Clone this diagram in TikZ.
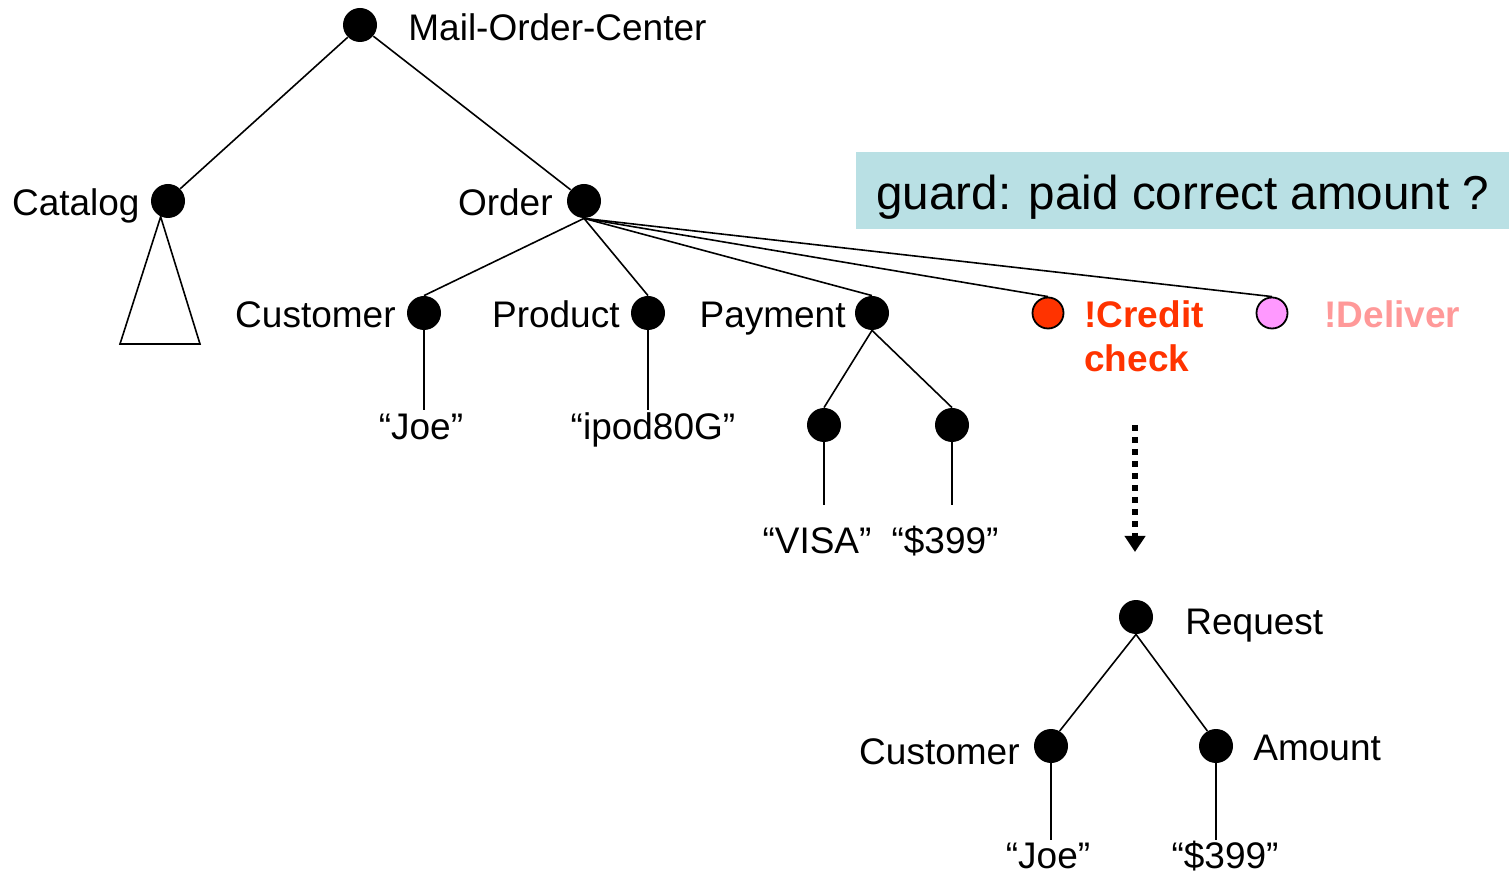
\documentclass[tikz,border=0pt]{standalone}
\usepackage{fontspec}
\setmainfont{Liberation Sans}
\usetikzlibrary{arrows.meta}
\definecolor{guardbg}{HTML}{B9E0E4}
\definecolor{credred}{HTML}{FF3300}
\definecolor{delpink}{HTML}{FF99FF}
\definecolor{deltext}{HTML}{FF9999}
\tikzset{
  dot/.style={circle,fill=black,inner sep=0pt,minimum size=17pt},
  odot/.style={circle,draw=black,line width=0.9pt,inner sep=0pt,minimum size=15.5pt},
  lbl/.style={inner sep=0pt,font=\fontsize{18.5}{22}\selectfont},
  blbl/.style={inner sep=0pt,font=\fontsize{18.5}{22}\selectfont\bfseries,align=left},
  edge/.style={line width=0.8pt},
}
\begin{document}
\begin{tikzpicture}[x=0.5pt,y=-0.5pt]
\useasboundingbox (0,0) rectangle (1509,876);
% guard box
\node[fill=guardbg,minimum width=326.5pt,minimum height=38.5pt,inner sep=0pt] (guard) at (1182.5,191) {};
\node[inner sep=0pt,anchor=base west,font=\fontsize{23.8}{28}\selectfont] (guardtxt) at (876,210) {guard: paid correct amount ?};
% nodes
\node[dot] (moc) at (360,25) {};
\node[dot] (cat) at (168,201) {};
\node[dot] (ord) at (584,201) {};
\node[dot] (cus) at (424,313) {};
\node[dot] (pro) at (648,313) {};
\node[dot] (pay) at (872,313) {};
\node[odot,fill=credred] (cre) at (1048,313) {};
\node[odot,fill=delpink] (del) at (1272,313) {};
\node[dot] (visa) at (824,425) {};
\node[dot] (amt1) at (952,425) {};
\node[dot] (req) at (1136,617) {};
\node[dot] (cus2) at (1051,746) {};
\node[dot] (amt2) at (1216,746) {};
\coordinate (joeend) at (424,410);
\coordinate (ipodend) at (648,410);
\coordinate (visaend) at (824,505);
\coordinate (amt1end) at (952,505);
\coordinate (joe2end) at (1051,840);
\coordinate (amt2end) at (1216,840);
\coordinate (arrs) at (1135,425);
\coordinate (arre) at (1135,552);
% triangle
\coordinate (tribl) at (120,344);
\coordinate (tribr) at (200,344);
\draw[edge] (cat.-115) -- (tribl) -- (tribr) -- cycle;
% edges
\draw[edge] (moc.-135) -- (cat.45);
\draw[edge] (moc.-40) -- (ord.140);
\draw[edge] (ord.south) -- (cus.north);
\draw[edge] (ord.south) -- (pro.north);
\draw[edge] (ord.south) -- (pay.north);
\draw[edge] (ord.south) -- (cre.north);
\draw[edge] (ord.south) -- (del.north);
\draw[edge] (cus.center) -- (joeend);
\draw[edge] (pro.center) -- (ipodend);
\draw[edge] (pay.south) -- (visa.north);
\draw[edge] (pay.south) -- (amt1.north);
\draw[edge] (visa.center) -- (visaend);
\draw[edge] (amt1.center) -- (amt1end);
\draw[edge] (req.south) -- (cus2.60);
\draw[edge] (req.south) -- (amt2.120);
\draw[edge] (cus2.center) -- (joe2end);
\draw[edge] (amt2.center) -- (amt2end);
\draw[line width=2.8pt,dash pattern=on 2.8pt off 3.2pt,-{Triangle[width=10pt,length=8pt]}] (arrs) -- (arre);
% labels
\node[lbl,anchor=base west] (tmoc) at (408,41) {Mail-Order-Center};
\node[lbl,anchor=base east] (tcat) at (140,216) {Catalog};
\node[lbl,anchor=base east] (tord) at (553,216) {Order};
\node[lbl,anchor=base east] (tcus) at (396,328) {Customer};
\node[lbl,anchor=base east] (tpro) at (620,328) {Product};
\node[lbl,anchor=base east] (tpay) at (846,328) {Payment};
\node[blbl,anchor=base west,text=credred] (tcre) at (1084,328) {!Credit};
\node[blbl,anchor=base west,text=credred] (tchk) at (1084,372) {check};
\node[blbl,anchor=base west,text=deltext] (tdel) at (1324,328) {!Deliver};
\node[lbl,anchor=base] (tjoe) at (421,440) {“Joe”};
\node[lbl,anchor=base] (tipod) at (653,440) {“ipod80G”};
\node[lbl,anchor=base] (tvisa) at (817,553) {“VISA”};
\node[lbl,anchor=base] (t399) at (945,553) {“\$399”};
\node[lbl,anchor=base west] (treq) at (1185,634) {Request};
\node[lbl,anchor=base east] (tcus2) at (1020,764) {Customer};
\node[lbl,anchor=base west] (tamt) at (1253,760) {Amount};
\node[lbl,anchor=base] (tjoe2) at (1048,868) {“Joe”};
\node[lbl,anchor=base] (t3992) at (1225,868) {“\$399”};
\end{tikzpicture}
\end{document}
